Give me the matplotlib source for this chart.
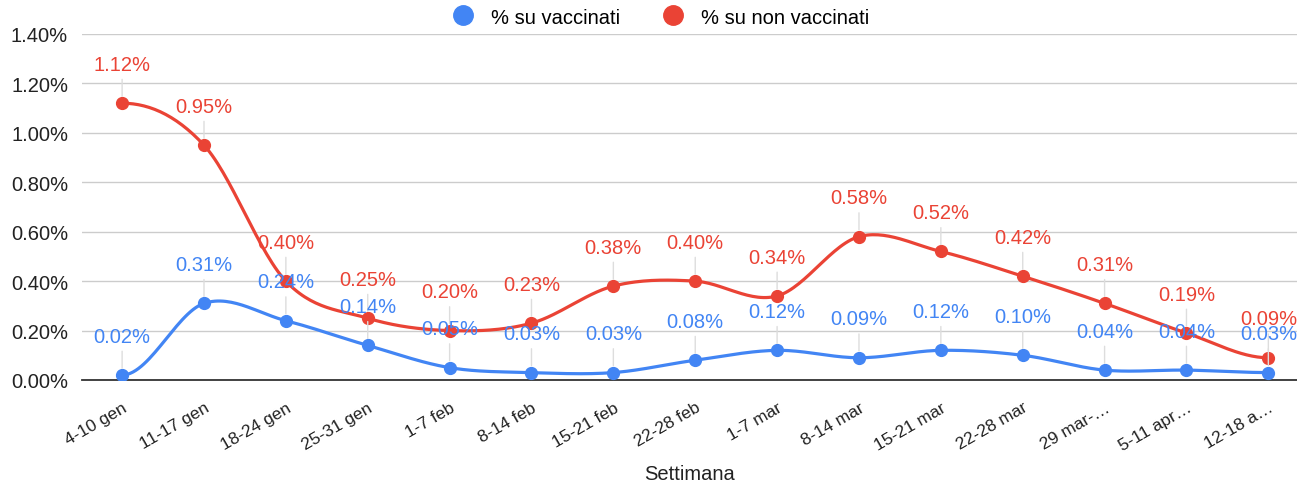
import numpy as np
import matplotlib
matplotlib.use("Agg")
import matplotlib.pyplot as plt
from matplotlib.ticker import FuncFormatter
from matplotlib.lines import Line2D

weeks = ["4-10 gen", "11-17 gen", "18-24 gen", "25-31 gen", "1-7 feb", "8-14 feb",
         "15-21 feb", "22-28 feb", "1-7 mar", "8-14 mar", "15-21 mar", "22-28 mar",
         "29 mar-…", "5-11 apr…", "12-18 a…"]
vaccinati = [0.02, 0.31, 0.24, 0.14, 0.05, 0.03, 0.03, 0.08, 0.12, 0.09, 0.12, 0.10, 0.04, 0.04, 0.03]
non_vaccinati = [1.12, 0.95, 0.40, 0.25, 0.20, 0.23, 0.38, 0.40, 0.34, 0.58, 0.52, 0.42, 0.31, 0.19, 0.09]

BLUE = "#4285F4"
RED = "#EA4335"

plt.rcParams['font.family'] = ['Liberation Sans', 'DejaVu Sans']

def smooth(xs, ys, n=30, t=0.5):
    xs = np.asarray(xs, float); ys = np.asarray(ys, float)
    px, py = [], []
    for i in range(len(xs) - 1):
        x0, y0 = xs[i], ys[i]
        x1, y1 = xs[i + 1], ys[i + 1]
        xm, ym = (xs[i - 1], ys[i - 1]) if i > 0 else (x0, y0)
        xp, yp = (xs[i + 2], ys[i + 2]) if i + 2 < len(xs) else (x1, y1)
        m0 = t * (y1 - ym) / (x1 - xm) * 2 * (x1 - x0) if i > 0 else 0.0
        m1 = t * (yp - y0) / (xp - x0) * 2 * (x1 - x0) if i + 2 < len(xs) else 0.0
        s = np.linspace(0, 1, n, endpoint=False)
        h00 = 2 * s**3 - 3 * s**2 + 1
        h10 = s**3 - 2 * s**2 + s
        h01 = -2 * s**3 + 3 * s**2
        h11 = s**3 - s**2
        px.extend(x0 + s * (x1 - x0))
        py.extend(h00 * y0 + h10 * m0 + h01 * y1 + h11 * m1)
    px.append(xs[-1]); py.append(ys[-1])
    return np.array(px), np.array(py)

fig = plt.figure(figsize=(12.97, 4.85), dpi=100)
ax = fig.add_axes([82 / 1297, 1 - 381 / 485, 1 - 82 / 1297, (381 - 35) / 485])

x = np.arange(len(weeks))
for vals, col in [(non_vaccinati, RED), (vaccinati, BLUE)]:
    sx, sy = smooth(x, vals)
    ax.plot(sx, sy, color=col, lw=2.3, zorder=3, solid_capstyle='round')
    ax.plot(x, vals, 'o', color=col, ms=8.5, zorder=4)
    for xi, v in zip(x, vals):
        ax.annotate(f"{v:.2f}%", (xi, v), xytext=(0, 28), textcoords='offset points',
                    ha='center', va='center', fontsize=14.5, color=col, zorder=5,
                    arrowprops=dict(arrowstyle='-', color='#dddddd', lw=1,
                                    shrinkA=2, shrinkB=5))

ax.set_xlim(-0.49, 14.35)
ax.set_ylim(0, 1.4)
ax.set_yticks(np.arange(0, 1.41, 0.2))
ax.yaxis.set_major_formatter(FuncFormatter(lambda v, p: f"{v:.2f}%"))
ax.grid(axis='y', color='#cccccc', lw=1)
ax.set_axisbelow(True)
for s in ['top', 'right', 'left']:
    ax.spines[s].set_visible(False)
ax.spines['bottom'].set_color('#333333')
ax.spines['bottom'].set_linewidth(1.3)
ax.tick_params(axis='both', length=0, labelsize=14.5, colors='#222222')
ax.tick_params(axis='y', pad=10)
ax.set_xticks(x)
ax.set_xticklabels(weeks, rotation=30, ha='right', va='top', rotation_mode='anchor', fontsize=12.5)
ax.tick_params(axis='x', pad=14)
ax.set_xlabel("Settimana", fontsize=14.5, color='#222222', labelpad=8)

handles = [Line2D([], [], marker='o', ls='none', color=BLUE, ms=14),
           Line2D([], [], marker='o', ls='none', color=RED, ms=14)]
fig.legend(handles, ["% su vaccinati", "% su non vaccinati"], loc='center',
           bbox_to_anchor=(0.506, 1 - 18 / 485), ncol=2, frameon=False, fontsize=14.5,
           handletextpad=0.4, columnspacing=1.6)

fig.savefig("out.png", dpi=100)
